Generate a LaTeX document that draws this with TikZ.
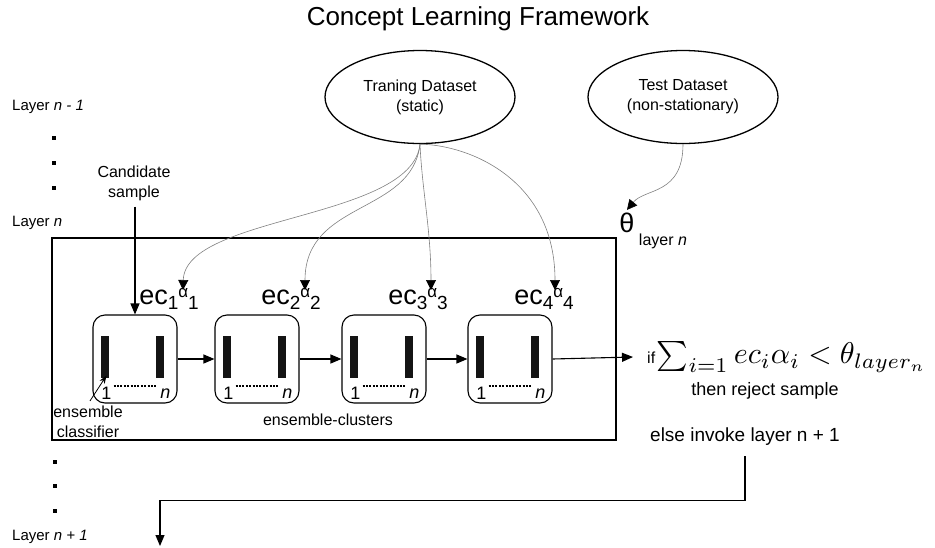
\documentclass[tikz,border=0pt]{standalone}
\usepackage{amsmath}
\usepackage{graphicx}
\usepackage{fontspec}
\setmainfont{Liberation Sans}
\usepackage{tikz}
\usetikzlibrary{shapes,shapes.geometric,arrows.meta,calc,positioning}

\newcommand{\fsz}[1]{\fontsize{#1}{#1}\selectfont}
\newcommand{\eclab}[1]{\fsz{27}ec\raisebox{-5pt}{\fsz{19}#1}\raisebox{7pt}{\fsz{17}α}\raisebox{-5pt}{\fsz{19}#1}}

\begin{document}
\begin{tikzpicture}[x=1pt, y=-1pt,
    flow/.style = {line width=1.1pt, -{Triangle[length=11pt,width=9pt]}},
    feed/.style = {gray, line width=0.6pt, -{Triangle[length=10pt,width=10pt,color=black]}}]
		\tikzset{dataset/.style={ellipse, draw=black, line width=1.3pt, minimum width=190pt, minimum height=93pt, inner sep=0pt, align=center, font=\fontsize{16}{20}\selectfont}}
		\tikzset{cluster/.style={draw=black, line width=1.1pt, rounded corners=12pt, minimum width=84pt, minimum height=88pt, inner sep=0pt}}
		\tikzset{bar/.style={fill=black!92, minimum width=8pt, minimum height=42pt, inner sep=0pt}}
		\tikzset{label/.style={inner sep=0pt, align=center, font=\fontsize{16}{20}\selectfont}}
		\tikzset{dotmark/.style={fill=black, minimum size=4.5pt, inner sep=0pt}}

		\useasboundingbox (0,0) rectangle (935,547);

		% Title
		\node[label, font=\fsz{26}] (title) at (478,19) {Concept Learning Framework};

		% Datasets
		\node[dataset] (train) at (420,97) {Traning Dataset\\(static)};
		\node[dataset] (test) at (683,97) {Test Dataset\\(non-stationary)};

		% Layers
		\node[label, anchor=west, font=\fsz{15}] (prevlayer) at (12,107) {Layer \textit{n - 1}};
		\node[label, anchor=west, font=\fsz{15}] (curlayer) at (12,223) {Layer \textit{n}};
		\node[label, anchor=west, font=\fsz{15}] (nextlayer) at (12,537) {Layer \textit{n + 1}};
		\foreach \y [count=\k] in {138,163,188} {
			\node[dotmark] (dotA\k) at (54,\y) {};
		}
		\foreach \y [count=\k] in {462,486,511} {
			\node[dotmark] (dotB\k) at (55,\y) {};
		}

		% Layer frame
		\node[draw=black, line width=1.5pt, minimum width=564pt, minimum height=202pt, inner sep=0pt] (frame) at (334,339) {};

		\node[label] (cand) at (134,183) {Candidate\\sample};

		% Ensemble clusters
		\foreach \i/\x in {1/135,2/257,3/384,4/510} {
			\node[cluster] (ec\i) at (\x,359) {};
			\node[bar] (barL\i) at ($(ec\i.north west)+(13,43)$) {};
			\node[bar] (barR\i) at ($(ec\i.north west)+(68,43)$) {};
			\draw[line width=2pt, dash pattern=on 2pt off 1.4pt] ($(barL\i.south east)+(4,7)$) -- ($(barR\i.south west)+(0,7)$);
			\node[label, font=\fsz{18}] (one\i) at ($(barL\i.south)+(1,15)$) {1};
			\node[label, font=\fsz{18}] (nn\i) at ($(barR\i.south)+(5,15)$) {\textit{n}};
			\node[inner sep=0pt] (lab\i) at (\x+34,299) {\eclab{\i}};
		}
		\coordinate (alpha1) at (183,290);
		\coordinate (alpha2) at (305,290);
		\coordinate (alpha3) at (431,290);
		\coordinate (alpha4) at (555,290);

		\node[label] (enscls) at (88,422) {ensemble\\classifier};
		\node[label] (enslus) at (328,420) {ensemble-clusters};

		% Threshold
		\node[label, font=\fsz{27}] (theta) at (627,223) {θ};
		\node[label] (thlayer) at (663,241) {layer \textit{n}};

		% Decision
		\node[inner sep=0pt, anchor=west] (cond) at (647,357) {{\fsz{16}if}\,\scalebox{3}{$\textstyle\sum_{i=1} ec_i\alpha_i < \theta_{layer_n}$}};
		\node[label, font=\fsz{18}] (reject) at (765,391) {then reject sample};
		\node[label, font=\fsz{19}] (else) at (745,437) {else invoke layer n + 1};
		\coordinate (next) at (160,546);

		% Arrows
		\draw[flow] (cand.south) ++(1,6) -- (ec1.north);
		\foreach \i/\j in {1/2,2/3,3/4} {
			\draw[flow] (ec\i) -- (ec\j);
		}
		\draw[flow] (ec4.east) -- ([xshift=-14pt]cond.west);
		\draw[flow, line width=0.8pt, -{Stealth[length=8pt,width=6pt]}] ([shift={(2,-5)}]enscls.north) -- ([shift={(1,-3)}]barL1.south);

		\draw[feed] (train.south) .. controls (412,220) and (185,215) .. (alpha1);
		\draw[feed] (train.south) .. controls (412,215) and (305,200) .. (alpha2);
		\draw[feed] (train.south) .. controls (422,190) and (431,230) .. (alpha3);
		\draw[feed] (train.south) .. controls (470,145) and (555,180) .. (alpha4);
		\draw[feed] (test.south) .. controls (683,195) and (645,188) .. ([yshift=3pt]theta.north);

		\draw[flow] ([yshift=-10pt]else.south) -- ++(0,44) -| (next);

	\end{tikzpicture}
\end{document}
